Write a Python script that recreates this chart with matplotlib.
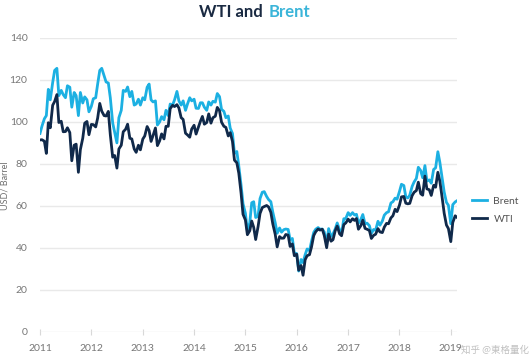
import pandas as pd
import matplotlib.pyplot as plt
import matplotlib.dates as mdates

# semi-monthly readings (1st and 15th of each month), Jan 2011 - Feb 2019
dates = pd.date_range('2011-01-01', '2019-02-15', freq='SMS')

brent = [
    # 2011
    94.5, 98.0, 101.5, 103.0, 115.5, 110.5, 118.7, 124.5, 125.5, 112.5, 115.0, 113.0,
    111.5, 117.2, 116.5, 107.0, 114.0, 112.5, 103.0, 114.0, 109.0, 111.9, 110.5, 104.8,
    # 2012
    107.4, 111.0, 111.5, 118.0, 124.5, 125.5, 122.0, 119.0, 118.5, 111.5, 99.5, 95.0,
    90.0, 102.0, 105.5, 115.0, 114.5, 116.6, 112.0, 114.5, 108.0, 108.5, 110.8, 108.0,
    # 2013
    111.5, 110.5, 116.5, 118.0, 110.5, 109.5, 110.0, 98.5, 100.0, 102.5, 101.0, 105.5,
    103.0, 108.5, 108.0, 110.5, 114.5, 110.0, 108.0, 110.0, 105.5, 108.5, 111.5, 110.0,
    # 2014
    110.8, 106.5, 106.4, 109.1, 109.1, 107.0, 105.5, 109.5, 108.0, 109.8, 109.4, 113.5,
    112.0, 106.0, 105.0, 102.0, 102.8, 97.0, 94.5, 85.0, 85.9, 79.0, 70.0, 61.0,
    # 2015
    56.5, 48.0, 52.0, 61.5, 62.0, 54.5, 55.0, 63.5, 66.5, 66.8, 64.5, 63.0,
    62.0, 57.0, 52.0, 47.0, 49.5, 47.5, 48.7, 49.0, 48.8, 44.0, 44.5, 37.5,
    # 2016
    37.3, 29.0, 34.5, 33.0, 36.8, 39.5, 38.7, 43.1, 47.4, 48.9, 49.7, 48.9,
    49.0, 47.6, 42.1, 49.2, 45.5, 46.6, 49.1, 51.9, 48.6, 46.9, 53.9, 54.0,
    # 2017
    56.8, 55.5, 56.8, 55.7, 56.0, 51.8, 53.5, 55.9, 51.5, 51.8, 50.6, 46.9,
    48.8, 48.4, 52.7, 50.8, 52.8, 55.6, 56.8, 57.2, 61.4, 62.0, 63.7, 63.2,
    # 2018
    66.9, 70.3, 69.7, 64.3, 63.8, 65.1, 69.3, 71.4, 73.1, 78.4, 76.8, 73.4,
    79.2, 71.8, 72.4, 70.8, 77.4, 78.1, 85.8, 80.8, 72.9, 66.6, 61.7, 60.3,
    # 2019
    51.5, 60.6, 61.9, 62.5,
]

wti = [
    # 2011
    91.4, 91.5, 90.8, 85.0, 99.6, 97.2, 107.9, 109.7, 113.0, 99.7, 100.3, 95.3,
    95.4, 97.2, 94.9, 81.5, 88.9, 89.4, 76.0, 86.8, 92.2, 99.4, 100.2, 93.9,
    # 2012
    98.8, 98.7, 97.6, 101.8, 108.8, 105.1, 103.0, 102.8, 105.0, 93.9, 83.2, 84.0,
    78.0, 87.1, 88.9, 95.3, 96.5, 98.9, 92.2, 91.9, 87.1, 85.5, 88.9, 86.7,
    # 2013
    91.8, 93.3, 97.8, 95.9, 90.7, 93.5, 97.1, 88.7, 91.0, 94.3, 91.9, 97.9,
    97.9, 106.3, 107.9, 107.3, 108.2, 106.6, 102.0, 101.2, 94.6, 93.8, 92.7, 96.6,
    # 2014
    98.4, 94.2, 97.5, 100.3, 102.6, 98.9, 99.7, 103.8, 99.4, 102.0, 102.7, 106.9,
    105.3, 99.9, 97.9, 97.4, 93.3, 94.9, 90.7, 81.8, 80.5, 75.6, 66.2, 56.0,
    # 2015
    53.3, 46.3, 48.2, 52.8, 49.8, 44.0, 50.1, 56.4, 59.2, 59.7, 60.2, 59.5,
    56.9, 51.4, 46.5, 40.5, 45.4, 44.6, 44.7, 46.4, 46.1, 40.7, 41.9, 36.3,
    # 2016
    37.0, 29.4, 31.6, 27.0, 34.4, 36.3, 36.8, 40.4, 45.9, 47.7, 49.0, 48.5,
    48.9, 45.9, 40.1, 46.6, 43.2, 43.9, 48.2, 50.4, 46.7, 45.8, 51.1, 51.9,
    # 2017
    53.7, 52.4, 53.9, 53.1, 54.0, 48.9, 50.6, 53.2, 49.3, 48.9, 48.3, 44.5,
    46.0, 46.5, 49.2, 47.6, 47.3, 49.9, 51.7, 51.5, 54.3, 55.3, 58.4, 57.3,
    # 2018
    60.4, 64.3, 64.5, 61.3, 61.0, 61.2, 64.9, 66.5, 67.3, 71.3, 65.8, 65.1,
    74.2, 68.1, 67.7, 65.0, 69.8, 68.9, 76.0, 71.8, 63.7, 56.5, 50.9, 49.2,
    # 2019
    43.0, 52.1, 55.3, 54.5,
]

years = ['2011', '2012', '2013', '2014', '2015', '2016', '2017', '2018', '2019']
y_ticks = [0, 20, 40, 60, 80, 100, 120, 140]

brent_color = '#1cb0e2'
wti_color = '#10294a'

plt.rcParams['font.family'] = ['Lato', 'DejaVu Sans']

fig = plt.figure(figsize=(5.3, 3.64), dpi=100)
ax = fig.add_axes([0.0755, 0.088, 0.787, 0.808])

ax.plot(dates, brent, color=brent_color, lw=2.0, label='Brent', zorder=2)
ax.plot(dates, wti, color=wti_color, lw=2.0, label='WTI', zorder=3)

ax.set_ylim(0, 140)
ax.set_yticks(y_ticks)
ax.set_xlim(pd.Timestamp('2011-01-01'), pd.Timestamp('2019-02-15'))
ax.set_xticks([pd.Timestamp(y + '-01-01') for y in years])
ax.set_xticklabels(years)

ax.grid(axis='y', color='#e9e9e9', lw=1)
ax.set_axisbelow(True)
for s in ax.spines.values():
    s.set_visible(False)
ax.tick_params(axis='y', length=0, pad=9, labelsize=7.5, labelcolor='#777777')
ax.tick_params(axis='x', length=4, direction='inout', color='#d8d8d8', pad=7,
               labelsize=7.5, labelcolor='#777777')

fig.text(0.009, 0.49, 'USD/ Barrel', rotation=90, ha='center', va='center',
         fontsize=6.5, color='#707070')

# two-colour title
fig.text(0.496, 0.966, 'WTI and', ha='right', va='center', fontsize=12,
         fontweight='bold', color='#1a2a42')
fig.text(0.506, 0.966, 'Brent', ha='left', va='center', fontsize=12,
         fontweight='bold', color='#3bb5d9')

ax.legend(loc='upper left', bbox_to_anchor=(0.872, 0.485), bbox_transform=fig.transFigure,
          frameon=False, fontsize=7.5, handlelength=1.5, handletextpad=0.6,
          labelspacing=0.8, labelcolor='#555555')

# watermark in the bottom-right corner, right of the 2019 label
fig.text(0.998, 0.038, '知乎 @東格量化', ha='right', va='center', fontsize=6.8,
         color='#c0c0c0', family=['Noto Sans CJK SC', 'DejaVu Sans'])

fig.savefig('out.png', dpi=100)
